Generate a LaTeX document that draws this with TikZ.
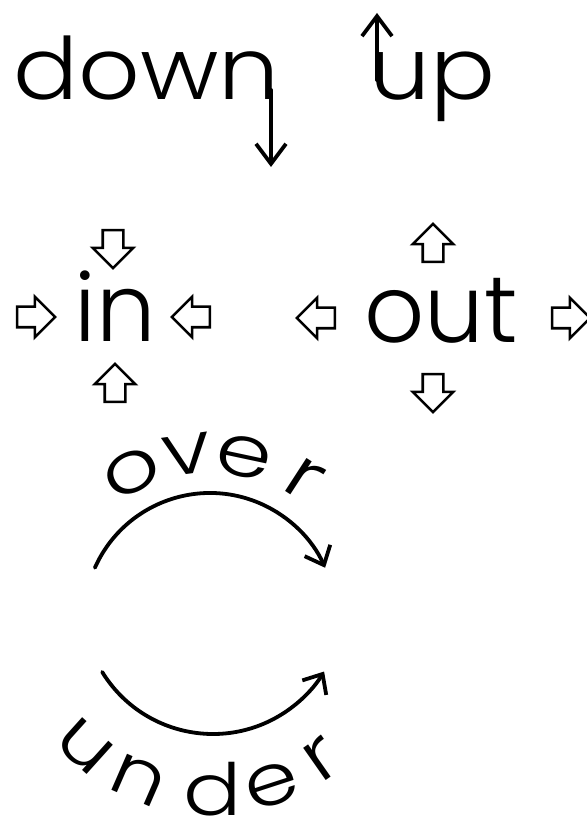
\documentclass[tikz,border=0pt]{standalone}
\usepackage{fontspec}
\setmainfont{Poppins Light}
\usetikzlibrary{arrows.meta,shapes.arrows}
\tikzset{
  word/.style={inner sep=0pt,font=\fontsize{86}{90}\selectfont},
  bigword/.style={inner sep=0pt,font=\fontsize{94}{98}\selectfont},
  letter/.style={inner sep=0pt,anchor=base,font=\fontsize{72}{76}\selectfont},
  blk/.style={single arrow,draw,line width=2.6pt,inner sep=9pt,minimum height=38pt,single arrow head extend=10pt},
  wordarr/.style={line width=3.8pt,line cap=round,-{Straight Barb[length=20pt,width=30pt]}},
  arcarr/.style={line width=3.8pt,line cap=round,-{Straight Barb[length=16pt,width=28pt]}},
}
\begin{document}
\begin{tikzpicture}[x=1pt,y=1pt]
\useasboundingbox (0,0) rectangle (587,823);
% down / up
\node[word,xscale=1.12,anchor=base east] (downword) at (280,723) {down};
\coordinate (downleg) at ([xshift=-9pt,yshift=10pt]downword.base east);
\coordinate (downtip) at (downleg |- 0,656);
\draw[wordarr] (downleg) -- (downtip);
\node[word,xscale=1.12,anchor=base west] (upword) at (369,723) {up};
\coordinate (upleg) at ([xshift=8pt,yshift=20pt]upword.base west);
\coordinate (uptip) at (upleg |- 0,810);
\draw[wordarr] (upleg) -- (uptip);
% in / out
\node[bigword,anchor=base] (inword) at (115,481) {in};
\node[blk,shape border rotate=270] (inN) at (113,579) {};
\node[blk,shape border rotate=90] (inS) at (115,435) {};
\node[blk] (inW) at (31,506) {};
\node[blk,shape border rotate=180] (inE) at (196,506) {};
\node[bigword,anchor=base] (outword) at (441,480) {out};
\node[blk,shape border rotate=90] (outN) at (433,575) {};
\node[blk,shape border rotate=270] (outS) at (433,435) {};
\node[blk,shape border rotate=180] (outW) at (321,505) {};
\node[blk] (outE) at (566,505) {};
% over
\coordinate (overc) at (210,204);
\node[letter,rotate=28,xscale=1.25] (overo) at ([shift={(118:146)}]overc) {o};
\node[letter,rotate=8,xscale=1.25] (overv) at ([shift={(98:146)}]overc) {v};
\node[letter,rotate=-12,xscale=1.25] (overe) at ([shift={(78:146)}]overc) {e};
\node[letter,rotate=-33,xscale=1.25] (overr) at ([shift={(56:148)}]overc) {r};
\coordinate (overA) at ([shift={(156:126)}]overc);
\draw[arcarr] (overA) arc[start angle=156,end angle=24,radius=126];
% under
\coordinate (underc) at (213,219);
\node[letter,rotate=-42,xscale=1.2] (underu) at ([shift={(228:211)}]underc) {u};
\node[letter,rotate=-23.5,xscale=1.2] (undern) at ([shift={(247:211)}]underc) {n};
\node[letter,xscale=1.2] (underd) at ([shift={(270:211)}]underc) {d};
\node[letter,rotate=18,xscale=1.2] (undere) at ([shift={(288:211)}]underc) {e};
\node[letter,rotate=35,xscale=1.2] (underr) at ([shift={(305:209)}]underc) {r};
\coordinate (underA) at ([shift={(211.5:130)}]underc);
\draw[arcarr] (underA) arc[start angle=211.5,end angle=328.7,radius=130];
\end{tikzpicture}
\end{document}
